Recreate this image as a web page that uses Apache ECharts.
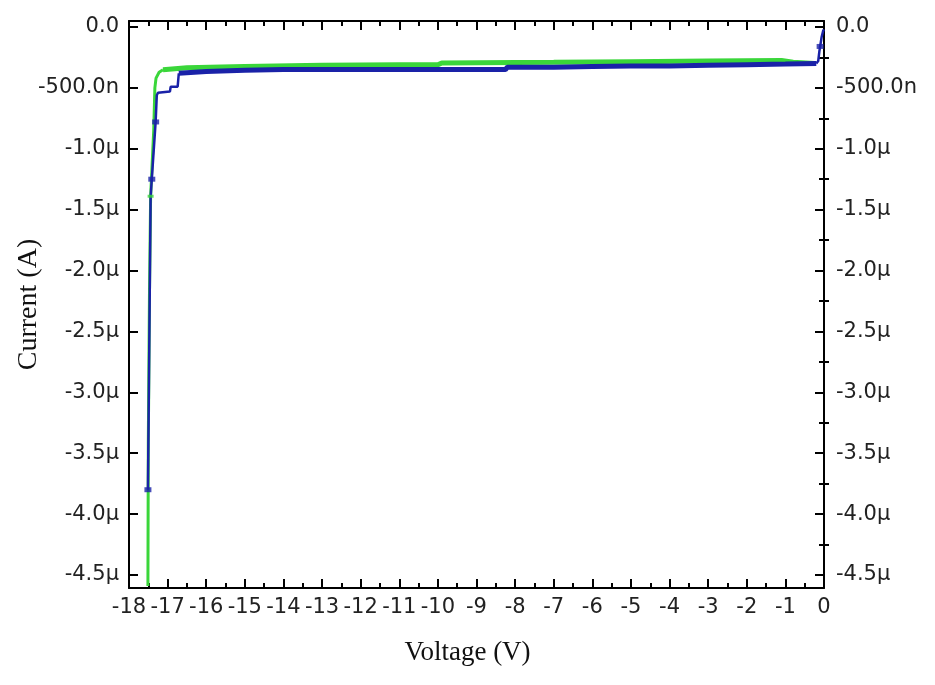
<!DOCTYPE html>
<html>
<head>
<meta charset="utf-8">
<title>IV curve</title>
<script src="https://cdn.jsdelivr.net/npm/echarts@6/dist/echarts.min.js"></script>
<style>
  html, body { margin: 0; padding: 0; background: #fff; }
  #main { width: 935px; height: 685px; }
</style>
</head>
<body>
<div id="main"></div>
<script>
// current values are in µA, labels are written like the original software does
var yTickValues = [0, -0.5, -1, -1.5, -2, -2.5, -3, -3.5, -4, -4.5];
var yTickLabels = ["0.0", "-500.0n", "-1.0µ", "-1.5µ", "-2.0µ", "-2.5µ", "-3.0µ", "-3.5µ", "-4.0µ", "-4.5µ"];
var yMinorValues = [-0.25, -0.75, -1.25, -1.75, -2.25, -2.75, -3.25, -3.75, -4.25];

// green sweep
var greenSteepV = [-17.51, -17.5, -17.47, -17.44, -17.36, -17.33, -17.3, -17.22, -17.12];
var greenSteepI = [-4.59, -3.4, -2.2, -1.39, -0.85, -0.5, -0.42, -0.372, -0.352];
var greenFlatV = [-17.12, -16.5, -15, -13, -11, -10.0, -9.9, -7, -5, -3, -1.1, -0.8, -0.25];
var greenFlatI = [-0.352, -0.335, -0.325, -0.315, -0.31, -0.31, -0.295, -0.29, -0.285, -0.28, -0.275, -0.29, -0.3];

// blue sweep
var blueSteepV = [-17.51, -17.49, -17.44, -17.41, -17.31, -17.28, -17.25, -16.94, -16.92, -16.74, -16.71];
var blueSteepI = [-3.8, -3.15, -1.4, -1.25, -0.78, -0.56, -0.54, -0.53, -0.49, -0.49, -0.38];
var blueFlatV = [-16.71, -16, -15, -14, -13, -12, -11, -10, -9, -8.25, -8.2, -7, -6, -5, -4, -3, -2, -1, -0.2];
var blueFlatI = [-0.38, -0.365, -0.355, -0.35, -0.35, -0.35, -0.35, -0.35, -0.35, -0.35, -0.33, -0.33, -0.325, -0.32, -0.32, -0.315, -0.31, -0.305, -0.3];
var blueRiseV = [-0.2, -0.15, -0.12, -0.1, -0.06, -0.02, 0];
var blueRiseI = [-0.3, -0.28, -0.2, -0.16, -0.08, -0.03, -0.02];

var blueMarkV = [-17.51, -17.41, -17.31, -0.1];
var blueMarkI = [-3.8, -1.25, -0.78, -0.16];
var greenMarkV = [-17.44];
var greenMarkI = [-1.39];

var blue = "#1a22a8";
var green = "#3ad63a";
var labelFont = "DejaVu Sans";
var yMin = -4.607;
var yMax = 0.049;

function pairs(xs, ys) {
  return xs.map(function (x, i) { return [x, ys[i]]; });
}

function yLabel(value) {
  for (var i = 0; i < yTickValues.length; i++) {
    if (Math.abs(yTickValues[i] - value) < 1e-6) return yTickLabels[i];
  }
  return "";
}

var chart = echarts.init(document.getElementById("main"));

var axisLine = { show: true, onZero: false, lineStyle: { color: "#000", width: 2 } };
var tickStyle = { color: "#000", width: 2 };
var gridBox = { left: 129, right: 111, top: 21, bottom: 97, outerBoundsMode: "none", containLabel: false };

// second grid only carries the short (half step) ticks of the current axes
var option = {
  animation: false,
  backgroundColor: "#fff",
  grid: [gridBox, Object.assign({}, gridBox)],
  xAxis: [
    {
      type: "value",
      position: "bottom",
      min: -18,
      max: 0,
      interval: 1,
      name: "Voltage (V)",
      nameLocation: "middle",
      nameGap: 51,
      nameMoveOverlap: false,
      nameTextStyle: { fontFamily: "Liberation Serif", fontSize: 27, color: "#111", padding: [0, 18, 0, 0] },
      axisLine: axisLine,
      axisTick: { inside: true, length: 9, lineStyle: tickStyle },
      minorTick: { show: true, splitNumber: 2, length: 5, lineStyle: tickStyle },
      axisLabel: {
        fontFamily: labelFont,
        fontSize: 21,
        color: "#222",
        margin: 9,
        showMinLabel: true,
        showMaxLabel: true,
        hideOverlap: false
      },
      splitLine: { show: false }
    },
    {
      type: "value",
      position: "top",
      min: -18,
      max: 0,
      interval: 1,
      axisLine: axisLine,
      axisTick: { inside: true, length: 9, lineStyle: tickStyle },
      minorTick: { show: true, splitNumber: 2, length: 5, lineStyle: tickStyle },
      axisLabel: { show: false },
      splitLine: { show: false }
    },
    {
      type: "value",
      gridIndex: 1,
      min: -18,
      max: 0,
      show: false
    }
  ],
  yAxis: [
    {
      type: "value",
      position: "left",
      min: yMin,
      max: yMax,
      name: "Current (A)",
      nameLocation: "middle",
      nameGap: 86,
      nameMoveOverlap: false,
      nameTextStyle: { fontFamily: "Liberation Serif", fontSize: 28, color: "#111" },
      axisLine: axisLine,
      axisTick: { inside: true, length: 9, customValues: yTickValues, lineStyle: tickStyle },
      axisLabel: {
        customValues: yTickValues,
        formatter: yLabel,
        fontFamily: labelFont,
        fontSize: 21,
        color: "#222",
        margin: 10
      },
      splitLine: { show: false }
    },
    {
      type: "value",
      position: "right",
      min: yMin,
      max: yMax,
      axisLine: axisLine,
      axisTick: { inside: true, length: 9, customValues: yTickValues, lineStyle: tickStyle },
      axisLabel: {
        customValues: yTickValues,
        formatter: yLabel,
        fontFamily: labelFont,
        fontSize: 21,
        color: "#222",
        margin: 12
      },
      splitLine: { show: false }
    },
    {
      type: "value",
      gridIndex: 1,
      position: "left",
      min: yMin,
      max: yMax,
      axisLine: { show: false },
      axisTick: { inside: true, length: 5, customValues: yMinorValues, lineStyle: tickStyle },
      axisLabel: { show: false },
      splitLine: { show: false }
    },
    {
      type: "value",
      gridIndex: 1,
      position: "right",
      min: yMin,
      max: yMax,
      axisLine: { show: false },
      axisTick: { inside: true, length: 5, customValues: yMinorValues, lineStyle: tickStyle },
      axisLabel: { show: false },
      splitLine: { show: false }
    }
  ],
  series: [
    {
      name: "green steep",
      type: "line",
      data: pairs(greenSteepV, greenSteepI),
      showSymbol: false,
      lineStyle: { color: green, width: 3 },
      z: 2
    },
    {
      name: "green flat",
      type: "line",
      data: pairs(greenFlatV, greenFlatI),
      showSymbol: false,
      lineStyle: { color: green, width: 5 },
      z: 2
    },
    {
      name: "blue steep",
      type: "line",
      data: pairs(blueSteepV, blueSteepI),
      showSymbol: false,
      lineStyle: { color: blue, width: 2.5 },
      z: 3
    },
    {
      name: "blue flat",
      type: "line",
      data: pairs(blueFlatV, blueFlatI),
      showSymbol: false,
      lineStyle: { color: blue, width: 5 },
      z: 3
    },
    {
      name: "blue rise",
      type: "line",
      data: pairs(blueRiseV, blueRiseI),
      showSymbol: false,
      lineStyle: { color: blue, width: 2.5 },
      z: 3
    },
    {
      name: "blue marks",
      type: "scatter",
      data: pairs(blueMarkV, blueMarkI),
      symbol: "rect",
      symbolSize: [7, 5],
      itemStyle: { color: blue },
      z: 4
    },
    {
      name: "green marks",
      type: "scatter",
      data: pairs(greenMarkV, greenMarkI),
      symbol: "rect",
      symbolSize: [6, 3],
      itemStyle: { color: green },
      z: 4
    }
  ]
};

chart.setOption(option);
</script>
</body>
</html>
